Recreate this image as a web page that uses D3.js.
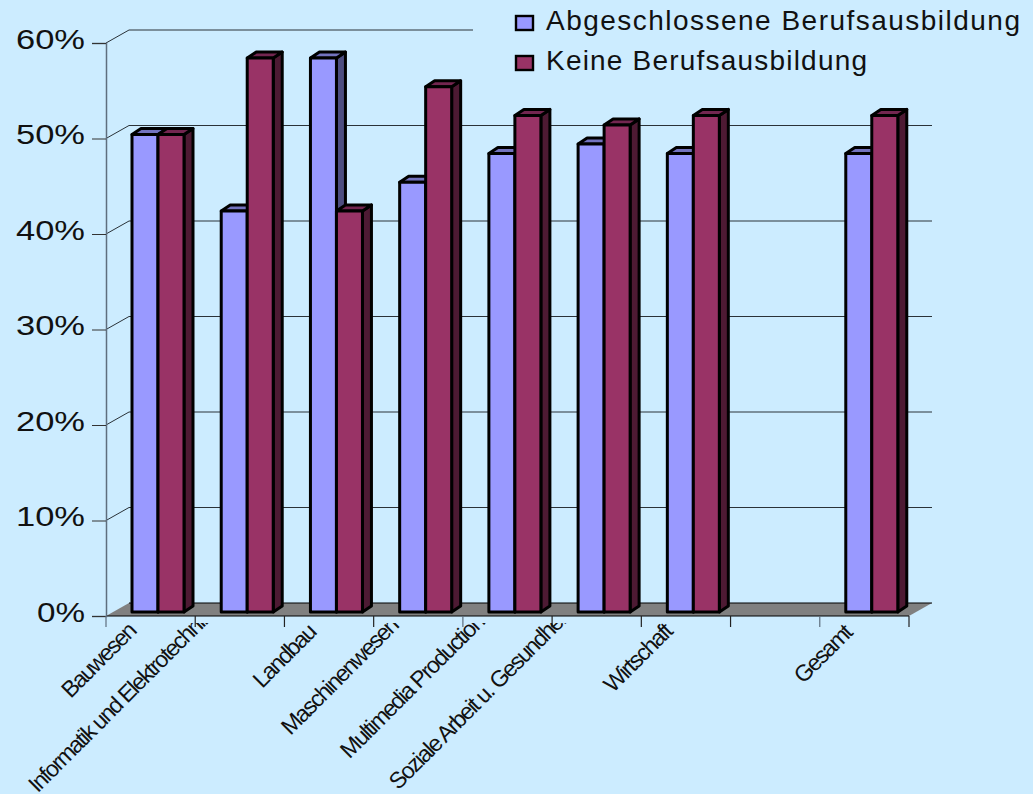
<!DOCTYPE html>
<html>
<head>
<meta charset="utf-8">
<script src="https://cdn.jsdelivr.net/npm/d3@7"></script>
<style>
  html, body { margin: 0; padding: 0; background: #CCECFF; overflow: hidden; }
  svg { display: block; font-family: "Liberation Sans", Arial, sans-serif; }
</style>
</head>
<body>
<svg id="chart" width="1033" height="794"></svg>
<script>
const categories = ["Bauwesen", "Informatik und Elektrotechnik", "Landbau", "Maschinenwesen",
  "Multimedia Production", "Soziale Arbeit u. Gesundheit", "Wirtschaft", " ", "Gesamt"];
const seriesNames = ["Abgeschlossene Berufsausbildung", "Keine Berufsausbildung"];
const abgeschlossen = [50, 42, 58, 45, 48, 49, 48, null, 48];
const keine = [50, 58, 42, 55, 52, 51, 52, null, 52];
const yTicks = [0, 10, 20, 30, 40, 50, 60];
const palette = [
  { front: "#9999FF", top: "#7373BF", side: "#4D4D80" },
  { front: "#993366", top: "#732650", side: "#4D1A33" }
];

const svg = d3.select("#chart");
const black = "#000";
const axisGrey = "#5E6E7E";

// Front plane of the 3D box and the shift to its back wall
const left = 106, right = 909, base = 616, top60 = 43;
const wall = { dx: 23, dy: -13 };
const barShift = -4;               // bars stand slightly behind the front edge
const depth = { dx: 9, dy: -6 };   // extrusion of a single bar

const x = d3.scaleBand().domain(categories).range([left, right]);
const inner = d3.scaleBand().domain(seriesNames).range([26, 78]);
const y = d3.scaleLinear().domain([0, 60]).range([base, top60]);

// Back wall gridlines; the uppermost one stops part way across
yTicks.slice(1).forEach(t => {
  svg.append("line")
    .attr("x1", left + wall.dx).attr("x2", t === 60 ? 473 : right + wall.dx)
    .attr("y1", y(t) + wall.dy).attr("y2", y(t) + wall.dy)
    .attr("stroke", "#2A3238").attr("stroke-width", 1);
  svg.append("line")
    .attr("x1", left).attr("x2", left + wall.dx)
    .attr("y1", y(t)).attr("y2", y(t) + wall.dy)
    .attr("stroke", "#2A3238").attr("stroke-width", 1);
});

// Floor
svg.append("polygon")
  .attr("points", [[left, base], [left + wall.dx, base + wall.dy],
                   [right + wall.dx, base + wall.dy], [right, base]].join(" "))
  .attr("fill", "#808080");
svg.append("line")
  .attr("x1", left + wall.dx).attr("x2", right + wall.dx)
  .attr("y1", base + wall.dy).attr("y2", base + wall.dy)
  .attr("stroke", black).attr("stroke-width", 1);

// Extruded bars, one group per category
function drawBar(g, bx, w, v, colors) {
  if (v === null) return;
  const yTop = y(v) + barShift, yBot = base + barShift;
  const d = depth;
  const stroke = sel => sel.attr("stroke", black).attr("stroke-width", 3).attr("stroke-linejoin", "round");
  g.append("polygon")
    .attr("points", [[bx + w, yTop], [bx + w + d.dx, yTop + d.dy],
                     [bx + w + d.dx, yBot + d.dy], [bx + w, yBot]].join(" "))
    .attr("fill", colors.side).call(stroke);
  g.append("polygon")
    .attr("points", [[bx, yTop], [bx + d.dx, yTop + d.dy],
                     [bx + w + d.dx, yTop + d.dy], [bx + w, yTop]].join(" "))
    .attr("fill", colors.top).call(stroke);
  g.append("rect")
    .attr("x", bx).attr("y", yTop).attr("width", w).attr("height", yBot - yTop)
    .attr("fill", colors.front).call(stroke);
}

categories.forEach((c, i) => {
  const g = svg.append("g");
  [abgeschlossen, keine].forEach((vals, s) => {
    drawBar(g, x(c) + inner(seriesNames[s]), inner.bandwidth(), vals[i], palette[s]);
  });
});

// Front floor edge
svg.append("line")
  .attr("x1", left).attr("x2", right).attr("y1", base).attr("y2", base)
  .attr("stroke", black).attr("stroke-width", 1);

// Value axis
const yAxis = svg.append("g")
  .attr("transform", `translate(${left},0)`)
  .call(d3.axisLeft(y).tickValues(yTicks).tickSize(14).tickPadding(7).tickFormat(d => d + "%"));
yAxis.selectAll(".domain").attr("stroke", axisGrey).attr("stroke-width", 1.5);
yAxis.selectAll(".tick line").attr("stroke", "#333");
yAxis.selectAll("text")
  .attr("fill", "#111").attr("dy", "0.2em")
  .style("font-family", '"Liberation Sans", Arial, sans-serif')
  .style("font-size", "27px")
  .attr("textLength", d => d === 0 ? 48 : 69)
  .attr("lengthAdjust", "spacingAndGlyphs");

// Category ticks sit on the band boundaries
d3.range(categories.length + 1).forEach(i => {
  const tx = left + i * x.step();
  svg.append("line")
    .attr("x1", tx).attr("x2", tx).attr("y1", base).attr("y2", base + 11)
    .attr("stroke", i % 4 === 0 ? axisGrey : "#222").attr("stroke-width", 1.2);
});

// Rotated category labels, cut off at a fixed line below the axis
svg.append("clipPath").attr("id", "labelClip")
  .append("rect").attr("x", 0).attr("y", 623).attr("width", 1033).attr("height", 171);

const labels = svg.append("g").attr("clip-path", "url(#labelClip)");
labels.selectAll("text").data(categories).join("text")
  .attr("text-anchor", "end")
  .attr("fill", "#111")
  .style("font-size", "23px")
  .style("letter-spacing", "-1.7px")
  .text(d => d)
  .attr("transform", function (d) {
    // Longer labels sit further up and to the left of their band centre
    const len = this.getComputedTextLength();
    const cx = x(d) + x.bandwidth() / 2;
    return `translate(${cx - 5 - 0.09 * len},${641 - 0.09 * len}) rotate(-45)`;
  });

// Legend
const legendRows = [30, 70];
const legendWidths = [474, 321];
seriesNames.forEach((name, i) => {
  svg.append("rect")
    .attr("x", 516).attr("y", legendRows[i] - 14).attr("width", 17).attr("height", 14)
    .attr("fill", palette[i].front).attr("stroke", black).attr("stroke-width", 2.4);
  svg.append("text")
    .attr("x", 546).attr("y", legendRows[i])
    .attr("fill", "#111")
    .attr("textLength", legendWidths[i])
    .attr("lengthAdjust", "spacing")
    .style("font-size", "28px")
    .text(name);
});
</script>
</body>
</html>
